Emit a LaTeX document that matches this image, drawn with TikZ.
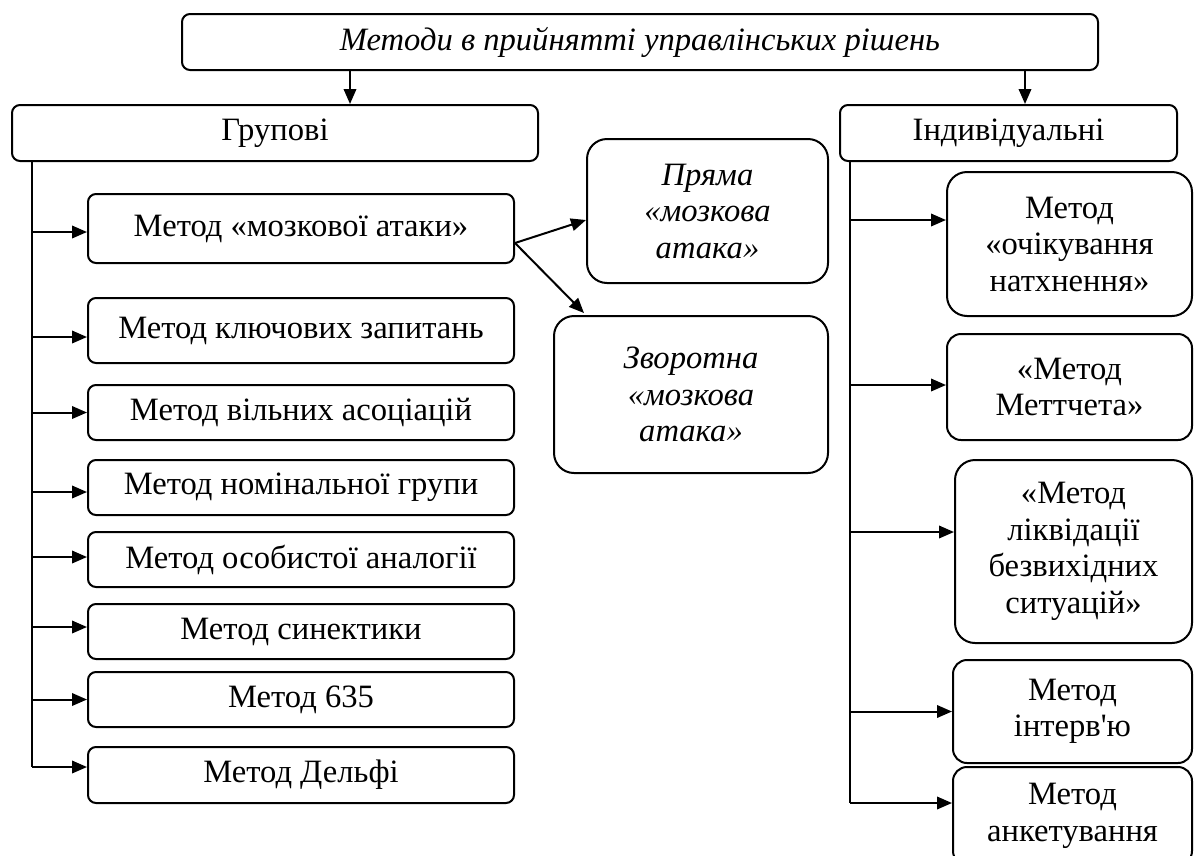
\documentclass[tikz,border=0pt]{standalone}
\usepackage{fontspec}
\setmainfont{Liberation Serif}
\usetikzlibrary{arrows.meta}
\newcommand{\bigfs}{\fontsize{32.6}{36.5}\selectfont}
\begin{document}
\begin{tikzpicture}[x=1pt,y=-1pt,
  box/.style={draw, line width=2pt, rounded corners=8pt, inner sep=0pt, align=center, font=\bigfs},
  bigbox/.style={box, rounded corners=20pt},
  midbox/.style={box, rounded corners=14pt},
  lbox/.style={box, minimum width=426pt},
  arr/.style={line width=2pt, -{Triangle[length=15pt,width=12.5pt]}},
  trunk/.style={line width=2pt}]
\clip (0,0) rectangle (1194,855);
\fill[white] (0,0) rectangle (1194,855);
% top level
\node[box, minimum width=916pt, minimum height=56pt] (top) at (640,42) {\itshape Методи в прийнятті управлінських рішень};
\node[box, minimum width=526pt, minimum height=56pt] (grp) at (275,133) {Групові};
\node[box, minimum width=337pt, minimum height=56pt] (ind) at (1008.5,133) {Індивідуальні};
% left column
\node[lbox, minimum height=69pt] (m1) at (301,228.5) {Метод «мозкової атаки»};
\node[lbox, minimum height=65pt] (m2) at (301,330.5) {Метод ключових запитань};
\node[lbox, minimum height=55pt] (m3) at (301,412.5) {Метод вільних асоціацій};
\node[lbox, minimum height=55pt] (m4) at (301,487.5) {Метод номінальної групи};
\node[lbox, minimum height=55pt] (m5) at (301,559.5) {Метод особистої аналогії};
\node[lbox, minimum height=55pt] (m6) at (301,631.5) {Метод синектики};
\node[lbox, minimum height=55pt] (m7) at (301,699.5) {Метод 635};
\node[lbox, minimum height=56pt] (m8) at (301,775) {Метод Дельфі};
% brainstorm kinds
\node[bigbox, minimum width=241pt, minimum height=144pt] (pr) at (707.5,211) {\itshape Пряма\\\itshape «мозкова\\\itshape атака»};
\node[bigbox, minimum width=274pt, minimum height=157pt] (zv) at (691,394.5) {\itshape Зворотна\\\itshape «мозкова\\\itshape атака»};
% right column
\node[bigbox, minimum width=245pt, minimum height=144pt] (r1) at (1069.5,244) {Метод\\«очікування\\натхнення»};
\node[midbox, minimum width=245pt, minimum height=106pt] (r2) at (1069.5,387) {«Метод\\Меттчета»};
\node[bigbox, minimum width=237pt, minimum height=183pt] (r3) at (1073.5,551.5) {«Метод\\ліквідації\\безвихідних\\ситуацій»};
\node[midbox, minimum width=239pt, minimum height=103pt] (r4) at (1072.5,711.5) {Метод\\інтерв\textquotesingle ю};
\node[midbox, minimum width=239pt, minimum height=98pt] (r5) at (1072.5,816) {Метод\\анкетування};
% trunk coordinates
\coordinate (tL) at (32,0);
\coordinate (tR) at (850,0);
\coordinate (aL) at (350,0);
\coordinate (aR) at (1025,0);
% arrow end points
\coordinate (e1) at ([yshift=-3.5pt]m1.west);
\coordinate (e2) at ([yshift=-6.5pt]m2.west);
\coordinate (e3) at (m3.west);
\coordinate (e4) at ([yshift=-4.5pt]m4.west);
\coordinate (e5) at ([yshift=2.5pt]m5.west);
\coordinate (e6) at ([yshift=4.5pt]m6.west);
\coordinate (e7) at (m7.west);
\coordinate (e8) at ([yshift=8pt]m8.west);
\coordinate (f1) at ([yshift=24pt]r1.west);
\coordinate (f2) at ([yshift=2pt]r2.west);
\coordinate (f3) at ([yshift=19.5pt]r3.west);
\coordinate (f4) at (r4.west);
\coordinate (f5) at ([yshift=13pt]r5.west);
\coordinate (bs) at ([yshift=-14.5pt]m1.east);
\coordinate (bp) at ([yshift=-9pt]pr.west);
\coordinate (bz) at ([xshift=31pt,yshift=2pt]zv.north west);
% top arrows
\draw[arr] (aL |- top.south) -- (aL |- grp.north);
\draw[arr] (aR |- top.south) -- (aR |- ind.north);
% left trunk
\draw[trunk] (tL |- grp.south) -- (tL |- e8);
\foreach \e in {e1,e2,e3,e4,e5,e6,e7,e8} \draw[arr] (tL |- \e) -- (\e);
% brainstorm arrows
\draw[arr] (bs) -- (bp);
\draw[arr] (bs) -- (bz);
% right trunk
\draw[trunk] (tR |- ind.south) -- (tR |- f5);
\foreach \f in {f1,f2,f3,f4,f5} \draw[arr] (tR |- \f) -- (\f);
\end{tikzpicture}
\end{document}
